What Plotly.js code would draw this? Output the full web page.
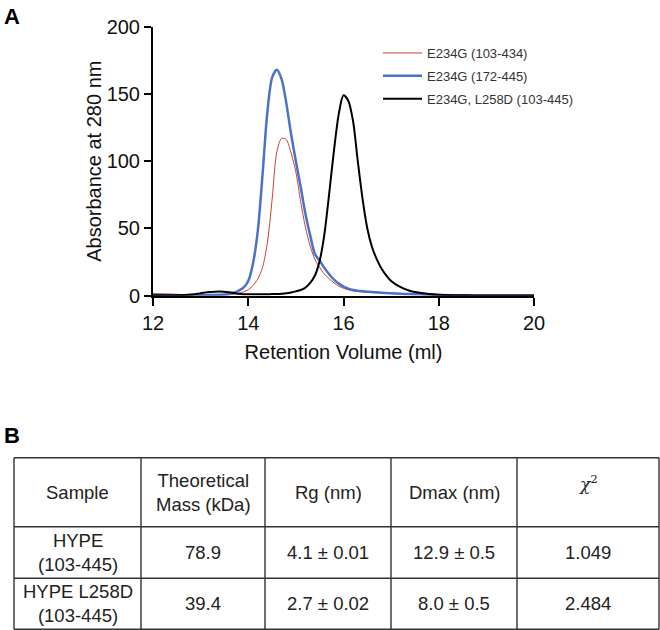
<!DOCTYPE html>
<html><head><meta charset="utf-8">
<script src="https://cdn.plot.ly/plotly-3.0.1.min.js"></script>
<style>html,body{margin:0;padding:0;background:#fff}#chart{width:660px;height:630px}</style>
</head><body><div id="chart"></div>
<script>
// ---- Panel A data: retention volume (ml) vs absorbance at 280 nm ----
const volume = [12.0, 12.4, 12.8, 13.0, 13.2, 13.4, 13.6, 13.7, 13.8, 13.9,
  14.0, 14.1, 14.2, 14.3, 14.4, 14.5, 14.6, 14.7, 14.8, 14.9,
  15.0, 15.1, 15.2, 15.3, 15.4, 15.5, 15.6, 15.7, 15.8, 15.9,
  16.0, 16.1, 16.2, 16.3, 16.4, 16.5, 16.6, 16.7, 16.8, 16.9,
  17.0, 17.2, 17.4, 17.6, 17.8, 18.0, 18.5, 19.0, 19.5, 20.0];
const absE234G_103_434 = [1.5, 1.2, 0.5, 0.4, 0.4, 0.5, 0.8, 1.2, 1.8, 2.8,
  4.5, 7.5, 12.5, 21, 39, 71, 107, 117, 116, 106,
  92, 70, 51, 37, 27, 21, 16, 12.5, 9.5, 7.2,
  5.5, 4.4, 3.6, 3.1, 2.8, 2.5, 2.3, 2.1, 2.0, 1.8,
  1.6, 1.3, 1.1, 0.9, 0.7, 0.5, 0.4, 0.3, 0.3, 0.3];
const absE234G_172_445 = [0.5, 0.3, 0.2, 0.3, 0.5, 0.7, 1.2, 2.2, 3.8, 6,
  11, 24, 48, 90, 136, 162, 168, 161, 143, 120,
  100, 81, 61, 45, 31, 26, 20.5, 16, 12, 9,
  6.8, 5.3, 4.3, 3.7, 3.3, 3.0, 2.7, 2.5, 2.2, 2.0,
  1.8, 1.5, 1.2, 1.0, 0.8, 0.5, 0.3, 0.2, 0.2, 0.2];
const absE234G_L258D_103_445 = [0.3, 0.3, 0.8, 1.8, 2.8, 3.2, 2.6, 2.0, 1.4, 1.1,
  1.0, 1.0, 1.0, 1.0, 1.1, 1.2, 1.3, 1.5, 1.8, 2.4,
  3.2, 4.2, 6.0, 9.5, 15, 26, 46, 76, 108, 135,
  149, 145, 130, 100, 72, 50, 36, 27, 20, 15,
  11, 6.3, 3.5, 2.2, 1.2, 0.7, 0.3, 0.2, 0.2, 0.2];
const seriesNames = ['E234G (103-434)', 'E234G (172-445)', 'E234G, L258D (103-445)'];
const xTickValues = [12, 14, 16, 18, 20];
const yTickValues = [0, 50, 100, 150, 200];

// ---- Panel B data: table ----
const tableHeader = ['Sample', 'Theoretical<br>Mass (kDa)', 'Rg (nm)', 'Dmax (nm)', '<i>χ</i><sup>2</sup>'];
const sampleNames = ['HYPE<br>(103-445)', 'HYPE L258D<br>(103-445)'];
const theoreticalMass = ['78.9', '39.4'];
const rgValues = ['4.1 ± 0.01', '2.7 ± 0.02'];
const dmaxValues = ['12.9 ± 0.5', '8.0 ± 0.5'];
const chiSquared = ['1.049', '2.484'];

const FONT = 'Liberation Sans, Arial, Helvetica, sans-serif';
const W = 660, H = 630;
const px = v => v / W;          // pixel -> paper x
const py = v => 1 - v / H;      // pixel -> paper y

const series = [absE234G_103_434, absE234G_172_445, absE234G_L258D_103_445];
const colors = ['#cc3d35', '#4a72c8', '#000000'];
const widths = [1, 2.5, 2];

const traces = series.map((ys, i) => ({
  type: 'scatter', mode: 'lines', x: volume, y: ys, name: seriesNames[i],
  legendgroup: 'g' + i,
  line: {color: colors[i], width: widths[i], shape: 'spline', smoothing: 0.8},
  hoverinfo: 'skip'
}));

// ---- table layout (grid geometry, pixels) ----
const colEdges = [14, 141, 265, 391, 517, 659];
const rowEdges = [457.7, 526.7, 578.3, 629.3];
const shapes = [];
const gridLine = {color: '#333', width: 1.4};
colEdges.forEach(xe => shapes.push({type: 'line', xref: 'paper', yref: 'paper',
  x0: px(xe), x1: px(xe), y0: py(rowEdges[0]), y1: py(rowEdges[rowEdges.length - 1]), line: gridLine}));
rowEdges.forEach(ye => shapes.push({type: 'line', xref: 'paper', yref: 'paper',
  x0: px(colEdges[0]), x1: px(colEdges[colEdges.length - 1]), y0: py(ye), y1: py(ye), line: gridLine}));

const tableColumns = [sampleNames, theoreticalMass, rgValues, dmaxValues, chiSquared];
const annotations = [];
const cellFont = {family: FONT, size: 18.5, color: '#222'};
tableHeader.forEach((t, c) => {
  const isChi = c === 4;
  annotations.push({text: t, xref: 'paper', yref: 'paper', showarrow: false,
    x: px((colEdges[c] + colEdges[c + 1]) / 2), y: py((rowEdges[0] + rowEdges[1]) / 2),
    xanchor: 'center', yanchor: 'middle', align: 'center',
    yshift: isChi ? 9 : 0,
    font: isChi ? {family: 'DejaVu Serif, Liberation Serif, serif', size: 17, color: '#222'} : cellFont});
});
tableColumns.forEach((col, c) => col.forEach((t, r) => {
  annotations.push({text: t, xref: 'paper', yref: 'paper', showarrow: false,
    x: px((colEdges[c] + colEdges[c + 1]) / 2), y: py((rowEdges[r + 1] + rowEdges[r + 2]) / 2),
    xanchor: 'center', yanchor: 'middle', align: 'center', font: cellFont});
}));

annotations.push(
  {text: '<b>A</b>', xref: 'paper', yref: 'paper', x: px(2), y: py(2), xanchor: 'left', yanchor: 'top',
   showarrow: false, font: {family: FONT, size: 22, color: '#000'}},
  {text: '<b>B</b>', xref: 'paper', yref: 'paper', x: px(2), y: py(421), xanchor: 'left', yanchor: 'top',
   showarrow: false, font: {family: FONT, size: 22, color: '#000'}}
);

const axisCommon = {
  showgrid: false, zeroline: false, showline: true, linecolor: '#000', linewidth: 2,
  ticks: 'outside', tickcolor: '#000', tickwidth: 2,
  tickfont: {family: FONT, size: 20, color: '#111'}
};

const layout = {
  width: W, height: H,
  margin: {l: 0, r: 0, t: 0, b: 0},
  paper_bgcolor: '#fff', plot_bgcolor: '#fff',
  font: {family: FONT, color: '#111'},
  showlegend: true,
  legend: {
    x: px(378), y: py(38), xanchor: 'left', yanchor: 'top',
    font: {family: FONT, size: 13, color: '#333'},
    itemwidth: 39, tracegroupgap: 3, bgcolor: 'rgba(0,0,0,0)'
  },
  xaxis: Object.assign({}, axisCommon, {
    domain: [px(153), px(534)], range: [12, 20], anchor: 'y',
    tickvals: xTickValues, ticklen: 8,
    title: {text: 'Retention Volume (ml)', font: {family: FONT, size: 20, color: '#111'}, standoff: 12}
  }),
  yaxis: Object.assign({}, axisCommon, {
    domain: [py(295.7), py(26.7)], range: [0, 200], anchor: 'x',
    tickvals: yTickValues, ticklen: 7,
    title: {text: 'Absorbance at 280 nm', font: {family: FONT, size: 20, color: '#111'}, standoff: 0}
  }),
  shapes: shapes,
  annotations: annotations
};

Plotly.newPlot('chart', traces, layout, {staticPlot: true, displayModeBar: false});
</script>
</body></html>
